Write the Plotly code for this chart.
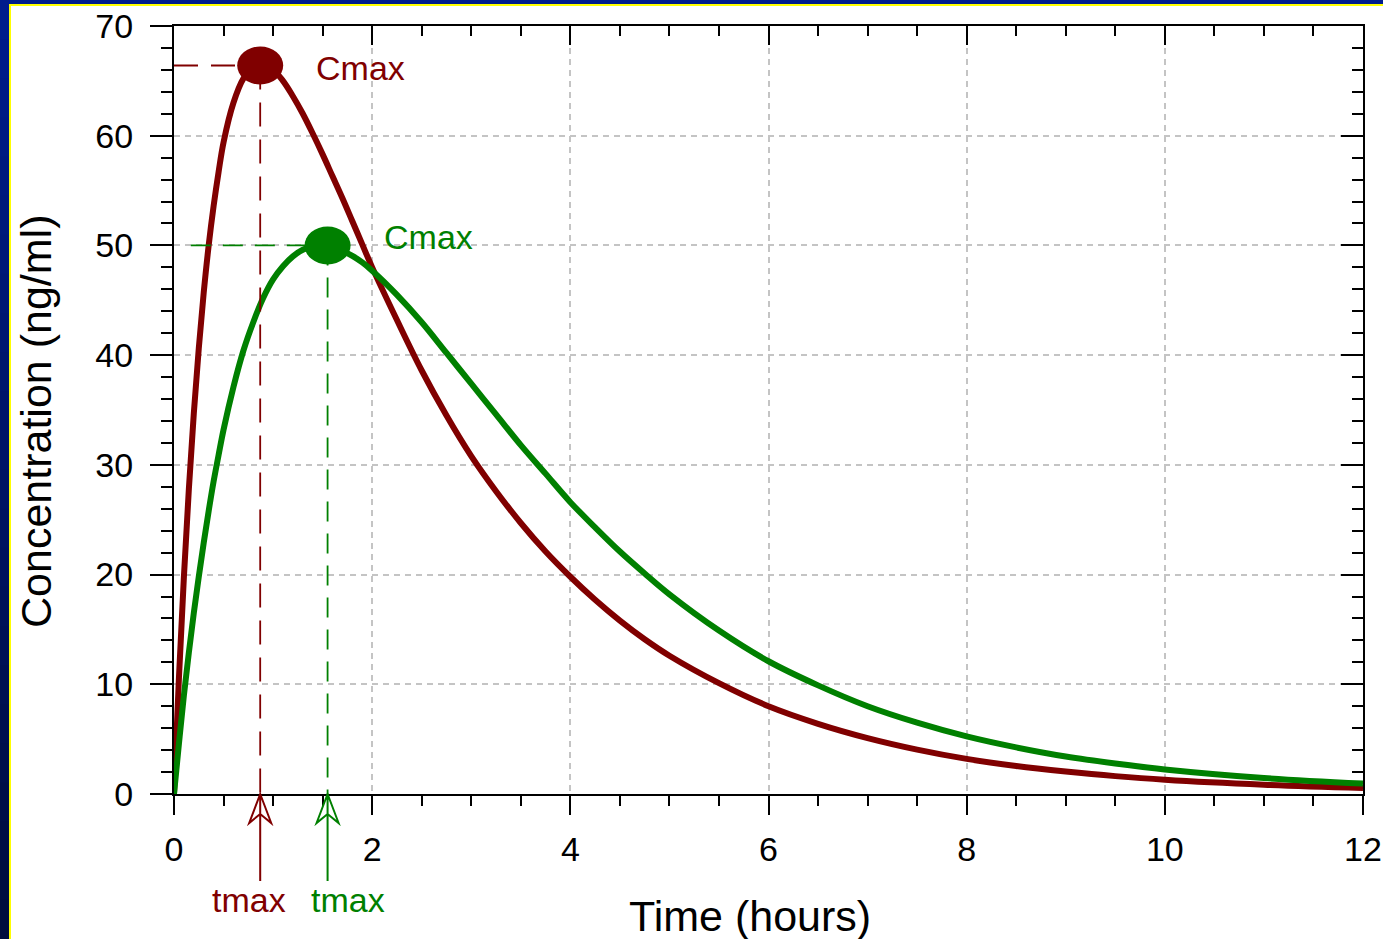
import plotly.graph_objects as go

# ---------------- data ----------------
time_h = [0, 0.05, 0.1, 0.15, 0.2, 0.25, 0.3, 0.35, 0.4, 0.45, 0.5, 0.6, 0.7, 0.8, 0.9, 1.0,
          1.1, 1.2, 1.3, 1.4, 1.5, 1.6, 1.7, 1.8, 1.9, 2.0, 2.25, 2.5, 2.75, 3.0, 3.25, 3.5,
          3.75, 4.0, 4.25, 4.5, 4.75, 5.0, 5.5, 6.0, 6.5, 7.0, 7.5, 8.0, 8.5, 9.0, 9.5,
          10.0, 11.0, 12.0]
conc_red = [0, 10.6, 19.8, 27.8, 34.7, 40.6, 45.7, 50.0, 53.6, 56.7, 59.4, 63.0, 65.2, 66.2, 66.4, 66.0,
            65.0, 63.6, 62.0, 60.2, 58.3, 56.3, 54.3, 52.2, 50.1, 48.0, 43.2, 38.6, 34.5, 30.8, 27.6, 24.7,
            22.1, 19.8, 17.7, 15.8, 14.1, 12.6, 10.1, 8.0, 6.4, 5.1, 4.05, 3.2, 2.55, 2.05, 1.63,
            1.3, 0.85, 0.55]
conc_green = [0, 4.6, 9.0, 12.9, 16.5, 19.8, 22.9, 25.8, 28.5, 30.9, 33.2, 37.1, 40.4, 43.0, 45.2, 46.9,
              48.1, 49.0, 49.6, 49.9, 50.0, 49.85, 49.5, 49.05, 48.45, 47.7, 45.5, 43.0, 40.2, 37.4, 34.6, 31.8,
              29.2, 26.6, 24.3, 22.1, 20.1, 18.2, 14.9, 12.1, 9.9, 8.0, 6.5, 5.25, 4.25, 3.42, 2.78,
              2.24, 1.46, 0.95]

tmax_vals = [0.87, 1.55]
cmax_vals = [66.4, 50.0]
guide_start = [0.0, 0.17]
series_colors = ["#800000", "#008000"]
peak_label = "Cmax"
time_label = "tmax"
x_title = "Time (hours)"
y_title = "Concentration (ng/ml)"

# ---------------- layout geometry ----------------
W, H = 1383, 939
ML, MR, MT, MB = 174, 20, 26, 145
PW, PH = W - ML - MR, H - MT - MB
FONT = "Arial, Liberation Sans, sans-serif"


def px_x(px):
    return (px - ML) / PW


def px_y(py):
    return (H - MB - py) / PH


fig = go.Figure()

# curves
for conc, col in zip([conc_red, conc_green], series_colors):
    fig.add_trace(go.Scatter(x=time_h, y=conc, mode="lines",
                             line=dict(color=col, width=6, shape="spline", smoothing=1.0),
                             hoverinfo="skip", showlegend=False))

# dashed guide lines
dashes = ["24px,13px", "20px,12px"]
for tm, cm, st, col, dsh in zip(tmax_vals, cmax_vals, guide_start, series_colors, dashes):
    fig.add_trace(go.Scatter(x=[st, tm], y=[cm, cm], mode="lines",
                             line=dict(color=col, width=1.8, dash=dsh),
                             hoverinfo="skip", showlegend=False))
    fig.add_trace(go.Scatter(x=[tm, tm], y=[cm, 0], mode="lines",
                             line=dict(color=col, width=1.8, dash=dsh),
                             hoverinfo="skip", showlegend=False))

# dummy trace for the mirrored (inside-tick) axes
fig.add_trace(go.Scatter(x=[time_h[0]], y=[conc_red[0]], mode="markers",
                         marker=dict(opacity=0), xaxis="x2", yaxis="y2",
                         hoverinfo="skip", showlegend=False))

shapes = []
for tm, cm, col in zip(tmax_vals, cmax_vals, series_colors):
    # peak ellipse
    shapes.append(dict(type="circle", xref="x", yref="y", xsizemode="pixel", ysizemode="pixel",
                       xanchor=tm, yanchor=cm, x0=-23, x1=23, y0=-19, y1=19,
                       fillcolor=col, line=dict(color=col, width=0), layer="above"))
    # open arrow pointing up at tmax on the time axis (bottom of the plot area)
    shapes.append(dict(type="path", xref="x", yref="paper", xsizemode="pixel", ysizemode="pixel",
                       xanchor=tm, yanchor=0,
                       path="M0,0 L0,-87 M-11,-29 L0,0 L11,-29 L0,-20 Z",
                       line=dict(color=col, width=2), fillcolor="rgba(0,0,0,0)", layer="above"))

# slide frame decoration (blue band + yellow rule)
n_bands = 24
c_top = (0, 28, 140)
c_bot = (0, 12, 62)
for i in range(n_bands):
    f = i / (n_bands - 1)
    col = "rgb(%d,%d,%d)" % tuple(round(a + (b - a) * f) for a, b in zip(c_top, c_bot))
    y_a = H * i / n_bands
    y_b = H * (i + 1) / n_bands + 1
    shapes.append(dict(type="rect", xref="paper", yref="paper", x0=px_x(0), x1=px_x(9),
                       y0=px_y(y_b), y1=px_y(y_a), fillcolor=col, line=dict(width=0), layer="above"))
shapes.append(dict(type="rect", xref="paper", yref="paper", x0=px_x(0), x1=px_x(W),
                   y0=px_y(4), y1=px_y(0), fillcolor="rgb(0,28,140)", line=dict(width=0), layer="above"))
shapes.append(dict(type="rect", xref="paper", yref="paper", x0=px_x(9), x1=px_x(11),
                   y0=px_y(H), y1=px_y(4), fillcolor="#ffff00", line=dict(width=0), layer="above"))
shapes.append(dict(type="rect", xref="paper", yref="paper", x0=px_x(9), x1=px_x(W),
                   y0=px_y(6), y1=px_y(4), fillcolor="#ffff00", line=dict(width=0), layer="above"))

annotations = []
cmax_yshift = [-2, 8]
tlab_xshift = [-11, 20]
for tm, cm, col, ys, xs in zip(tmax_vals, cmax_vals, series_colors, cmax_yshift, tlab_xshift):
    annotations.append(dict(x=tm, y=cm, xref="x", yref="y", text=peak_label, showarrow=False,
                            xanchor="left", yanchor="middle", xshift=54, yshift=ys,
                            font=dict(family=FONT, size=34, color=col)))
    annotations.append(dict(x=tm, y=0, xref="x", yref="y", text=time_label, showarrow=False,
                            xanchor="center", yanchor="middle", xshift=xs, yshift=-106,
                            font=dict(family=FONT, size=34, color=col)))

annotations.append(dict(x=px_x(750), y=px_y(916), xref="paper", yref="paper", text=x_title,
                        showarrow=False, xanchor="center", yanchor="middle",
                        font=dict(family=FONT, size=43, color="black")))
annotations.append(dict(x=px_x(36), y=px_y(422), xref="paper", yref="paper", text=y_title,
                        showarrow=False, xanchor="center", yanchor="middle", textangle=-90,
                        font=dict(family=FONT, size=43, color="black")))

grid_common = dict(showgrid=True, gridcolor="#c4c4c4", gridwidth=1.5, griddash="6px,5px")
tick_font = dict(family=FONT, size=34, color="black")

fig.update_layout(
    width=W, height=H, autosize=False,
    margin=dict(l=ML, r=MR, t=MT, b=MB, pad=0, autoexpand=False),
    paper_bgcolor="white", plot_bgcolor="white",
    showlegend=False,
    shapes=shapes, annotations=annotations,
    xaxis=dict(range=[0, 12], tick0=0, dtick=2, ticks="outside", ticklen=19, tickwidth=2,
               tickcolor="black", showline=True, linewidth=2, linecolor="black", zeroline=False,
               tickfont=tick_font, ticklabelstandoff=5, automargin=False,
               minor=dict(ticks="outside", dtick=0.5, ticklen=10, tickwidth=2, tickcolor="black",
                          showgrid=False),
               **grid_common),
    yaxis=dict(range=[0, 70], tick0=0, dtick=10, ticks="outside", ticklen=22, tickwidth=2,
               tickcolor="black", showline=True, linewidth=2, linecolor="black", zeroline=False,
               tickfont=tick_font, ticklabelstandoff=10, automargin=False,
               minor=dict(ticks="outside", dtick=2, ticklen=11, tickwidth=2, tickcolor="black",
                          showgrid=False),
               **grid_common),
    xaxis2=dict(range=[0, 12], overlaying="x", side="top", anchor="y", tick0=0, dtick=2,
                ticks="inside", ticklen=19, tickwidth=2, tickcolor="black", automargin=False,
                showline=True, linewidth=2, linecolor="black", showticklabels=False,
                showgrid=False, zeroline=False,
                minor=dict(ticks="inside", dtick=0.5, ticklen=10, tickwidth=2, tickcolor="black")),
    yaxis2=dict(range=[0, 70], overlaying="y", side="right", anchor="x", tick0=0, dtick=10,
                ticks="inside", ticklen=22, tickwidth=2, tickcolor="black", automargin=False,
                showline=True, linewidth=2, linecolor="black", showticklabels=False,
                showgrid=False, zeroline=False,
                minor=dict(ticks="inside", dtick=2, ticklen=11, tickwidth=2, tickcolor="black")),
)

fig.write_html("out.html")
